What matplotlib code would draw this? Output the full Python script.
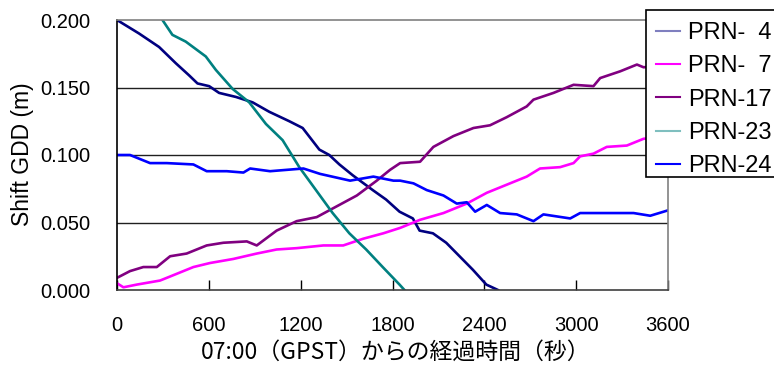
import matplotlib
matplotlib.use("Agg")
import matplotlib.pyplot as plt
from matplotlib.lines import Line2D
from matplotlib.patches import Rectangle

plt.rcParams['font.family'] = ['Liberation Sans', 'DejaVu Sans']

# ---- data (seconds since 07:00 GPST, shift GDD in m) ----
t_prn4 = [0, 144, 275, 384, 471, 526, 602, 667, 777, 886, 995, 1126, 1213, 1322, 1387,
          1453, 1540, 1671, 1758, 1846, 1933, 1977, 2064, 2151, 2238, 2325, 2413, 2489]
v_prn4 = [0.200, 0.190, 0.180, 0.168, 0.159, 0.153, 0.151, 0.146, 0.143, 0.139, 0.132,
          0.125, 0.120, 0.104, 0.100, 0.093, 0.085, 0.074, 0.067, 0.058, 0.053, 0.044,
          0.042, 0.035, 0.025, 0.015, 0.004, 0.000]

t_prn7 = [0, 42, 129, 281, 347, 499, 608, 760, 913, 1043, 1174, 1348, 1478, 1609, 1740,
          1850, 1980, 2133, 2285, 2416, 2568, 2677, 2764, 2895, 2983, 3026, 3113, 3200,
          3331, 3440, 3600]
v_prn7 = [0.005, 0.002, 0.004, 0.007, 0.010, 0.017, 0.020, 0.023, 0.027, 0.030, 0.031,
          0.033, 0.033, 0.038, 0.042, 0.046, 0.052, 0.057, 0.064, 0.072, 0.079, 0.084,
          0.090, 0.091, 0.094, 0.099, 0.101, 0.106, 0.107, 0.112, 0.114]

t_prn17 = [0, 85, 172, 260, 347, 455, 586, 695, 848, 913, 1043, 1174, 1305, 1436, 1567,
           1697, 1784, 1850, 1980, 2067, 2198, 2329, 2437, 2546, 2677, 2721, 2852, 2983,
           3113, 3157, 3288, 3397, 3440, 3600]
v_prn17 = [0.009, 0.014, 0.017, 0.017, 0.025, 0.027, 0.033, 0.035, 0.036, 0.033, 0.044,
           0.051, 0.054, 0.062, 0.070, 0.081, 0.089, 0.094, 0.095, 0.106, 0.114, 0.120,
           0.122, 0.128, 0.136, 0.141, 0.146, 0.152, 0.151, 0.157, 0.162, 0.167, 0.165,
           0.166]

t_prn23 = [297, 362, 449, 580, 646, 755, 864, 973, 1082, 1191, 1300, 1409, 1518, 1628,
           1736, 1846, 1878]
v_prn23 = [0.200, 0.189, 0.184, 0.173, 0.163, 0.149, 0.139, 0.123, 0.111, 0.091, 0.074,
           0.057, 0.042, 0.030, 0.017, 0.004, 0.000]

t_prn24 = [0, 85, 216, 325, 499, 586, 717, 826, 870, 1000, 1218, 1327, 1523, 1675, 1806,
           1850, 1937, 2024, 2133, 2220, 2285, 2340, 2416, 2503, 2612, 2721, 2786, 2961,
           3026, 3157, 3375, 3484, 3600]
v_prn24 = [0.100, 0.100, 0.094, 0.094, 0.093, 0.088, 0.088, 0.087, 0.090, 0.088, 0.090,
           0.086, 0.081, 0.084, 0.081, 0.081, 0.079, 0.074, 0.070, 0.064, 0.065, 0.058,
           0.063, 0.057, 0.056, 0.051, 0.056, 0.053, 0.057, 0.057, 0.057, 0.055, 0.059]

labels = ["PRN-\u20074", "PRN-\u20077", "PRN-17", "PRN-23", "PRN-24"]
colors = ["#000080", "#FF00FF", "#800080", "#008080", "#0000FF"]
legend_colors = ["#7f7fbf", "#FF00FF", "#800080", "#7fbfbf", "#0000FF"]
x_ticks = [0, 600, 1200, 1800, 2400, 3000, 3600]
y_ticks = [0.0, 0.05, 0.10, 0.15, 0.20]
y_ticklabels = ["0.000", "0.050", "0.100", "0.150", "0.200"]

series = [(t_prn4, v_prn4), (t_prn7, v_prn7), (t_prn17, v_prn17),
          (t_prn23, v_prn23), (t_prn24, v_prn24)]

fig = plt.figure(figsize=(7.74, 3.65), dpi=100)
ax = fig.add_axes([117/774, 1-290/365, 551/774, 270/365])

for (t, v), c in zip(series, colors):
    ax.plot(t, v, color=c, lw=1.9, solid_joinstyle='round', clip_on=True)

ax.set_xlim(0, 3600)
ax.set_ylim(0, 0.2)
ax.set_xticks(x_ticks)
ax.set_xticklabels([str(x) for x in x_ticks])
ax.set_yticks(y_ticks)
ax.set_yticklabels(y_ticklabels)
ax.tick_params(axis='x', direction='in', length=7, width=1, pad=19, labelsize=14.5)
ax.tick_params(axis='y', length=0, pad=19, labelsize=14.5)
for yv in [0.05, 0.10, 0.15]:
    ax.axhline(yv, color='#202020', lw=1, zorder=0.5)

ax.spines['left'].set_color('black')
ax.spines['bottom'].set_color('#404040')
ax.spines['top'].set_color('#808080')
ax.spines['right'].set_color('#808080')
for s in ax.spines.values():
    s.set_linewidth(1.2)

fig.text(396/774, 1-352/365, "07:00（GPST）からの経過時間（秒）", fontsize=16.5,
         family=['Noto Sans CJK JP', 'DejaVu Sans'], ha='center', va='center')
fig.text(23/774, 1-154/365, "Shift GDD (m)", fontsize=16.5, rotation=90,
         ha='center', va='center')

# legend frame (extends past the right edge like the reference)
frame = Rectangle((646/774, 1-177/365), 140/774, 167/365, transform=fig.transFigure,
                  facecolor='white', edgecolor='black', lw=1.2, zorder=5, clip_on=False)
fig.patches.append(frame)

handles = [Line2D([0], [0], color=c, lw=1.5) for c in legend_colors]
leg = fig.legend(handles, labels, loc='upper left',
                 bbox_to_anchor=(646/774, 1-12/365), bbox_transform=fig.transFigure,
                 prop={'size': 17, 'family': ['Liberation Sans', 'DejaVu Sans']},
                 frameon=False, handlelength=1.0, handletextpad=0.35,
                 labelspacing=0.48, borderpad=0.42, borderaxespad=0)
leg.set_zorder(6)

fig.savefig("out.png", dpi=100)
